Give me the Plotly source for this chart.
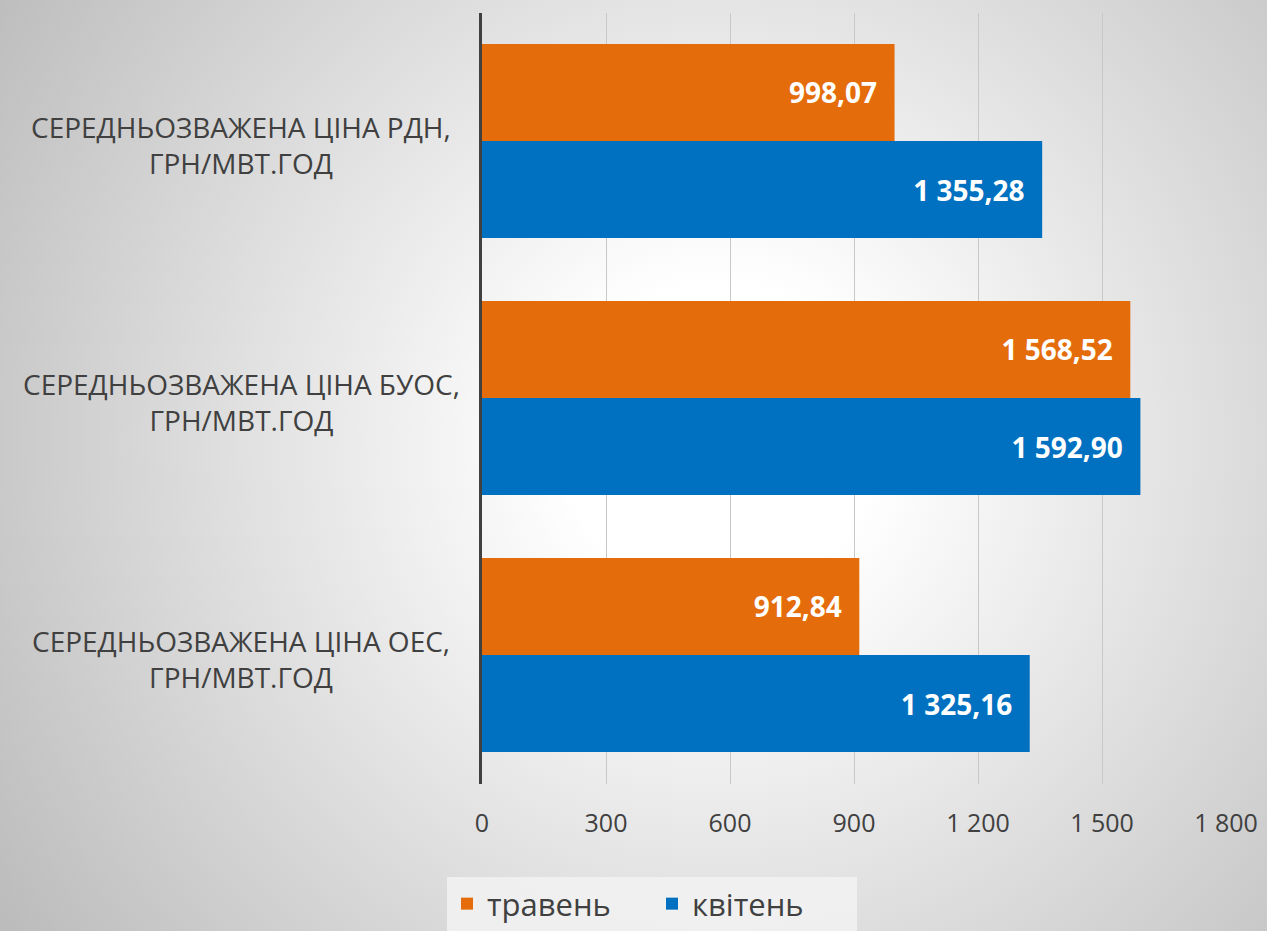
import base64
import plotly.graph_objects as go

categories = ["СЕРЕДНЬОЗВАЖЕНА ЦІНА РДН,<br>ГРН/МВТ.ГОД",
              "СЕРЕДНЬОЗВАЖЕНА ЦІНА БУОС,<br>ГРН/МВТ.ГОД",
              "СЕРЕДНЬОЗВАЖЕНА ЦІНА ОЕС,<br>ГРН/МВТ.ГОД"]
series_names = ["травень", "квітень"]
may_values = [998.07, 1568.52, 912.84]
april_values = [1355.28, 1592.90, 1325.16]
tick_values = [0, 300, 600, 900, 1200, 1500, 1800]
colors = ["#E46C0A", "#0070C0"]

W, H = 1267, 931

svg = f'''<svg xmlns="http://www.w3.org/2000/svg" width="{W}" height="{H}" viewBox="0 0 {W} {H}" preserveAspectRatio="none">
<defs><radialGradient id="g" gradientUnits="userSpaceOnUse" cx="720" cy="440" r="860">
<stop offset="0" stop-color="#ffffff"/><stop offset="0.18" stop-color="#ffffff"/>
<stop offset="1" stop-color="#bcbcbc"/></radialGradient></defs>
<rect x="0" y="0" width="{W}" height="{H}" fill="url(#g)"/></svg>'''
bg_src = "data:image/svg+xml;base64," + base64.b64encode(svg.encode()).decode()

fig = go.Figure()
for name, vals, col in zip(series_names, [may_values, april_values], colors):
    fig.add_trace(go.Bar(
        y=categories, x=vals, name=name, orientation="h",
        marker=dict(color=col, line=dict(width=0)),
        texttemplate="%{x:,.2f}&nbsp;&nbsp;", textposition="inside",
        insidetextanchor="end",
        textfont=dict(family="Open Sans", size=28, color="white", weight="bold"),
        cliponaxis=False,
    ))

for cat in categories:
    fig.add_annotation(text=cat, x=241 / W, xref="paper", y=cat, yref="y",
                       showarrow=False, align="center", xanchor="center",
                       yanchor="middle", yshift=-4,
                       font=dict(family="Open Sans", size=28, color="#404040"))

fig.update_layout(
    width=W, height=H, autosize=False,
    margin=dict(l=0, r=0, t=0, b=0, autoexpand=False),
    paper_bgcolor="white", plot_bgcolor="rgba(0,0,0,0)",
    separators=", ",
    barmode="group", bargap=0.245, bargroupgap=0,
    font=dict(family="Open Sans", color="#404040"),
    images=[dict(source=bg_src, xref="paper", yref="paper", x=0, y=1,
                 sizex=1, sizey=1, sizing="stretch", layer="below")],
    xaxis=dict(domain=[482 / W, 1226 / W], range=[0, 1800],
               tickvals=tick_values, tickformat=",d", automargin=False,
               showgrid=True, gridcolor="#c8c8c8", gridwidth=1.3,
               zeroline=False, showline=False, ticks="",
               tickfont=dict(family="Open Sans", size=25, color="#404040"),
               ticklabelstandoff=22),
    yaxis=dict(domain=[(H - 783.5) / H, (H - 12.5) / H], automargin=False,
               autorange="reversed", showticklabels=False,
               showline=True, linecolor="#404040", linewidth=3,
               showgrid=False, ticks=""),
    legend=dict(orientation="h", x=447 / W, xanchor="left",
                y=(H - 877) / H, yanchor="top",
                bgcolor="rgba(242,242,242,0.85)", borderwidth=0,
                font=dict(family="Open Sans", size=31, color="#404040"),
                itemwidth=30, entrywidth=160, tracegroupgap=0),
    showlegend=True,
)

post = ("document.body.style.margin='0';document.body.style.padding='0';"
        "document.body.style.overflow='hidden';"
        "document.documentElement.style.overflow='hidden';")

fig.write_html("out.html", post_script=post,
               config={"displayModeBar": False, "responsive": False})
